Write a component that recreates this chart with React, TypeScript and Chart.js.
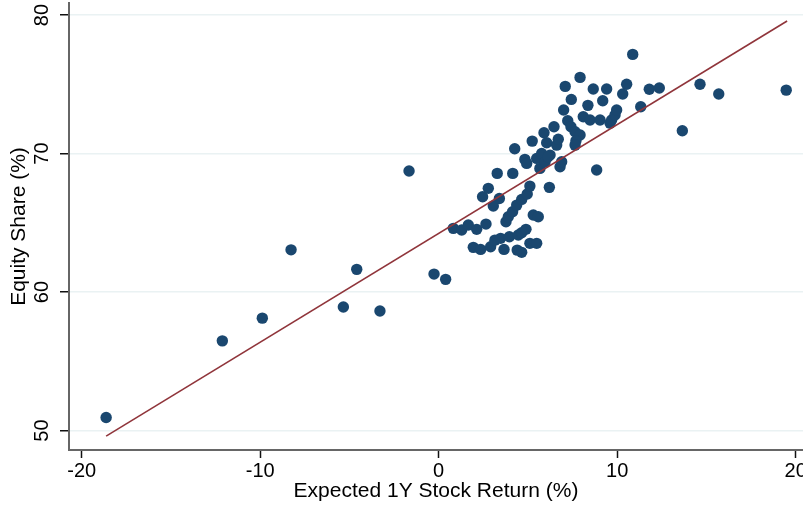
import React, { useEffect, useRef } from "react";
import { Chart, registerables } from "chart.js";

Chart.register(...registerables);

// Expected 1Y stock return (%) for each observation
const expReturn: number[] = [
  -18.63, -12.12, -9.88, -8.27, -5.34, -4.59, -3.29, -1.66, -0.26, 0.39,
  0.82, 1.29, 1.66, 2.13, 2.65, 1.94, 2.35, 2.91, 3.15, 3.47,
  3.66, 3.96, 4.4, 4.65, 4.46, 4.65, 4.89, 5.11, 5.49, 5.3,
  5.58, 3.77, 3.9, 4.14, 4.37, 4.65, 4.96, 5.11, 3.06, 2.46,
  3.4, 2.78, 3.28, 4.15, 6.2, 4.83, 4.93, 5.49, 5.67, 5.77,
  6.24, 5.96, 6.12, 6.8, 6.89, 4.26, 5.24, 5.9, 6.05, 6.61,
  6.7, 6.46, 7.0, 7.23, 7.41, 7.64, 7.92, 7.69, 7.64, 8.85,
  7.43, 7.09, 7.92, 8.66, 9.41, 8.36, 9.19, 8.1, 8.48, 9.04,
  9.6, 9.69, 9.88, 9.97, 10.53, 10.31, 10.87, 11.32, 11.8, 12.36,
  13.65, 14.64, 15.69, 19.47,
];

// Equity share (%) for each observation
const equityShare: number[] = [
  50.95, 56.48, 58.12, 63.05, 58.92, 61.64, 58.63, 68.74, 61.3, 60.92,
  64.6, 64.48, 64.84, 64.53, 64.91, 63.23, 63.08, 63.27, 63.75, 63.88,
  63.08, 63.99, 63.03, 62.87, 64.12, 64.28, 64.53, 63.52, 63.52, 65.56,
  65.44, 65.08, 65.44, 65.8, 66.28, 66.69, 67.08, 67.65, 66.21, 66.88,
  66.76, 67.49, 68.57, 68.57, 67.56, 69.58, 69.29, 69.65, 68.93, 70.01,
  69.89, 69.39, 69.75, 69.05, 69.41, 70.35, 70.9, 71.5, 70.78, 70.61,
  71.03, 71.94, 73.14, 72.37, 71.94, 71.57, 71.34, 70.92, 70.61, 68.81,
  73.91, 74.85, 75.5, 74.66, 74.66, 73.48, 73.81, 72.66, 72.42, 72.42,
  72.2, 72.42, 72.78, 73.14, 75.0, 74.3, 77.16, 73.38, 74.64, 74.73,
  71.65, 75.0, 74.3, 74.58,
];

// Fitted line endpoints
const fitX: number[] = [-18.63, 19.52];
const fitY: number[] = [49.6, 79.57];

const xTicks: number[] = [-20, -10, 0, 10, 20];
const yTicks: number[] = [50, 60, 70, 80];

const FONT = "'Liberation Sans', Arial, Helvetica, sans-serif";

export default function App() {
  const ref = useRef<HTMLCanvasElement | null>(null);

  useEffect(() => {
    if (!ref.current) return;
    const points = expReturn.map((x, i) => ({ x, y: equityShare[i] }));
    const line = fitX.map((x, i) => ({ x, y: fitY[i] }));
    const chart = new Chart(ref.current, {
      type: "scatter",
      data: {
        datasets: [
          {
            type: "line",
            data: line,
            borderColor: "#90353b",
            borderWidth: 1.6,
            pointRadius: 0,
            fill: false,
            order: 0,
          } as any,
          {
            type: "scatter",
            data: points,
            backgroundColor: "#1a476f",
            borderWidth: 0,
            pointRadius: 5.7,
            order: 1,
          },
        ],
      },
      options: {
        responsive: false,
        animation: false,
        layout: { autoPadding: false, padding: { top: 3, left: 0, right: 0, bottom: 0 } },
        plugins: {
          legend: { display: false },
          tooltip: { enabled: false },
        },
        scales: {
          x: {
            type: "linear",
            min: -20.71,
            max: 20.41,
            afterBuildTicks: (s: any) => {
              s.ticks = xTicks.map((v) => ({ value: v }));
            },
            afterFit: (s: any) => {
              s.height = 58;
              s.paddingLeft = 0;
              s.paddingRight = 0;
            },
            border: { display: true, color: "#666666", width: 2 },
            grid: {
              display: true,
              drawOnChartArea: false,
              drawTicks: true,
              tickLength: 8,
              tickColor: "#111111",
              tickWidth: 1.5,
            },
            ticks: {
              color: "#000000",
              font: { family: FONT, size: 20 },
              padding: 1,
              maxRotation: 0,
              minRotation: 0,
              autoSkip: false,
            },
            title: {
              display: true,
              text: "Expected 1Y Stock Return (%)",
              color: "#000000",
              font: { family: FONT, size: 21 },
              padding: { top: 0, bottom: 4 },
            },
          },
          y: {
            type: "linear",
            min: 48.6,
            max: 80.87,
            afterBuildTicks: (s: any) => {
              s.ticks = yTicks.map((v) => ({ value: v }));
            },
            afterFit: (s: any) => {
              s.width = 69;
              s.paddingTop = 0;
              s.paddingBottom = 0;
            },
            border: { display: true, color: "#666666", width: 2 },
            grid: {
              display: true,
              drawOnChartArea: true,
              color: "#eaf2f3",
              lineWidth: 1.5,
              drawTicks: true,
              tickLength: 9,
              tickColor: "#111111",
              tickWidth: 1.5,
            },
            ticks: {
              color: "#000000",
              font: { family: FONT, size: 20 },
              padding: 6,
              minRotation: 90,
              maxRotation: 90,
              crossAlign: "center",
              autoSkip: false,
            },
            title: {
              display: true,
              text: "Equity Share (%)",
              color: "#000000",
              font: { family: FONT, size: 21 },
              padding: { top: 7, bottom: 0 },
            },
          },
        },
      },
    });
    return () => chart.destroy();
  }, []);

  return (
    <div style={{ position: "absolute", left: 0, top: 0, width: 803, height: 508, overflow: "hidden", background: "#ffffff" }}>
      <canvas ref={ref} width={803} height={508} style={{ display: "block" }} />
    </div>
  );
}
